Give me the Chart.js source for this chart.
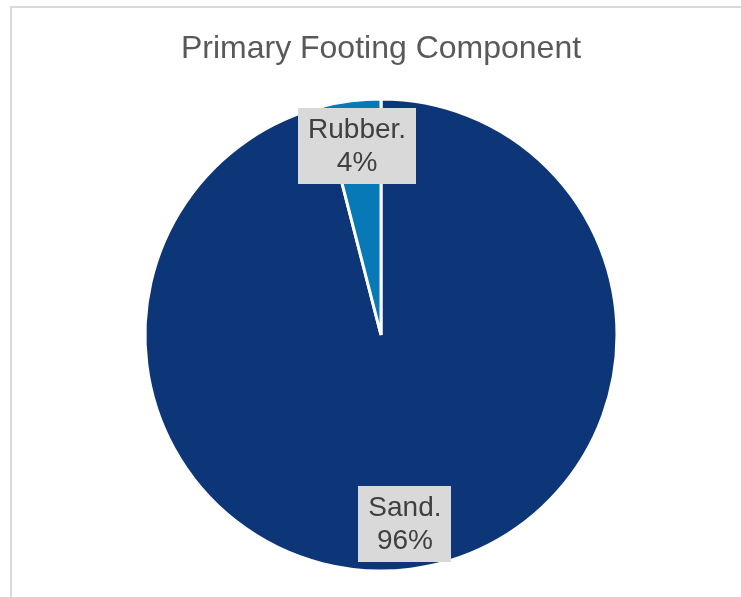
<!DOCTYPE html>
<html>
<head>
<meta charset="utf-8">
<title>Primary Footing Component</title>
<script src="https://cdn.jsdelivr.net/npm/chart.js@4/dist/chart.umd.min.js"></script>
<style>
  html, body { margin: 0; padding: 0; background: #fff; }
  #wrap { position: relative; width: 741px; height: 597px; }
</style>
</head>
<body>
<div id="wrap"><canvas id="chart_footing"></canvas></div>
<script>
var categories = ["Sand", "Rubber"];
var shares = [96, 4];
var sliceColors = ["#0d3678", "#0779b7"];

var FONT = "'Liberation Sans', Arial, sans-serif";

// frame around the whole chart, like the spreadsheet chart box
var chartFrame = {
  id: "chartFrame",
  beforeDraw: function (chart) {
    var ctx = chart.ctx;
    ctx.save();
    ctx.strokeStyle = "#d9d9d9";
    ctx.lineWidth = 2;
    ctx.strokeRect(11, 7, 800, 700);
    ctx.restore();
  }
};

// "Name.\nNN%" boxes drawn inside each slice
var sliceLabels = {
  id: "sliceLabels",
  afterDatasetsDraw: function (chart) {
    var ctx = chart.ctx;
    var meta = chart.getDatasetMeta(0);
    var size = 28, lineH = 33, padX = 10, padY = 5;
    ctx.save();
    ctx.font = size + "px " + FONT;
    ctx.textAlign = "center";
    ctx.textBaseline = "middle";
    meta.data.forEach(function (arc, i) {
      var p = arc.getProps(["x", "y", "startAngle", "endAngle", "outerRadius"], true);
      var mid = (p.startAngle + p.endAngle) / 2;
      var r = p.outerRadius * 0.808;
      var cx = p.x + Math.cos(mid) * r;
      var cy = p.y + Math.sin(mid) * r;
      var lines = [categories[i] + ".", shares[i] + "%"];
      var w = Math.max.apply(null, lines.map(function (t) { return ctx.measureText(t).width; })) + padX * 2;
      var h = lines.length * lineH + padY * 2;
      ctx.fillStyle = "#d9d9d9";
      ctx.fillRect(Math.round(cx - w / 2), Math.round(cy - h / 2), Math.round(w), Math.round(h));
      ctx.fillStyle = "#404040";
      lines.forEach(function (t, k) {
        ctx.fillText(t, cx, cy - h / 2 + padY + lineH * (k + 0.5) + 1);
      });
    });
    ctx.restore();
  }
};

var footingCtx = document.getElementById("chart_footing").getContext("2d");
var footingChart = new Chart(footingCtx, {
  type: "pie",
  data: {
    labels: categories,
    datasets: [
      {
        data: shares,
        backgroundColor: sliceColors,
        borderColor: "#ffffff",
        borderWidth: 3
      }
    ]
  },
  options: {
    responsive: true,
    maintainAspectRatio: false,
    animation: false,
    layout: {
      padding: { top: 8, left: 21, right: 0, bottom: 24.5 }
    },
    plugins: {
      legend: { display: false },
      tooltip: { enabled: false },
      title: {
        display: true,
        text: "Primary Footing Component",
        color: "#595959",
        font: { family: FONT, size: 32, weight: "normal" },
        padding: { top: 22.4, bottom: 28.7 }
      }
    }
  },
  plugins: [chartFrame, sliceLabels]
});
</script>
</body>
</html>
